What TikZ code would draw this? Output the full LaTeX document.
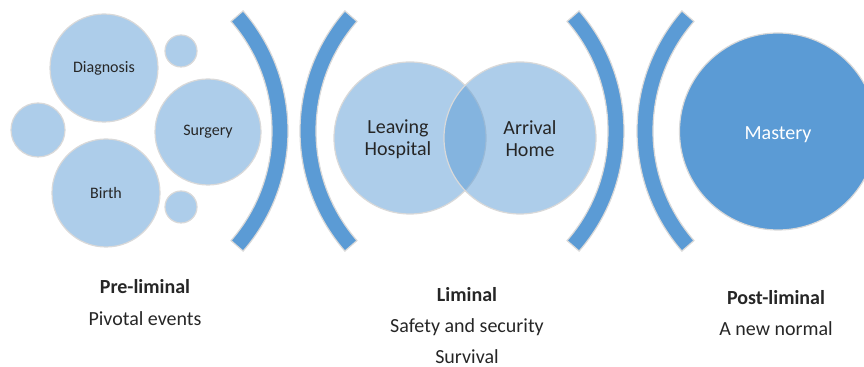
\documentclass[tikz,border=0pt]{standalone}
\usepackage{fontspec}
\setmainfont{Carlito}
\usepackage{tikz}
\usetikzlibrary{calc}
\definecolor{accent}{HTML}{5B9BD5}
\definecolor{lightacc}{HTML}{ADCDEA}
\definecolor{txt}{HTML}{262626}

\begin{document}
\begin{tikzpicture}[x=0.5pt,y=-0.5pt,
  bubble/.style={circle,inner sep=0pt,fill=lightacc,draw=black!15,line width=0.6pt,
    text=txt,font=\fontsize{8}{9.6}\selectfont},
  venn/.style={circle,inner sep=0pt,fill=accent,fill opacity=0.5,draw=black!15,line width=0.6pt},
  bracket/.style={fill=accent,draw=black!15,line width=0.6pt},
  caption/.style={anchor=base,text=txt,font=\fontsize{10}{12}\selectfont},
  phase/.style={caption,font=\fontsize{10}{12}\selectfont\bfseries}]
  \clip (0,0) rectangle (864,367);

  % pre-liminal bubbles
  \node[bubble,minimum size=54pt] (diag) at (104,68) {Diagnosis};
  \node[bubble,minimum size=53pt] (surg) at (208,132) {Surgery};
  \node[bubble,minimum size=54pt] (birth) at (106,193) {Birth};
  \node[bubble,minimum size=27pt] (dotL) at (38,130) {};
  \node[bubble,minimum size=16pt] (dotT) at (181,51) {};
  \node[bubble,minimum size=16pt] (dotB) at (181,207) {};

  % brackets
  \foreach \cx/\a in {105/0, 483/180, 441/0, 820/180}
    \draw[bracket] ($(\cx,131)+(\a-41:183)$) arc[start angle=\a-41,end angle=\a+41,radius=183]
      -- ($(\cx,131)+(\a+41:167)$) arc[start angle=\a+41,end angle=\a-41,radius=167] -- cycle;

  % liminal
  \node[venn,minimum size=76pt] (leave) at (410,138) {};
  \node[venn,minimum size=76pt] (arrive) at (520,138) {};
  \node[text=txt,align=center,font=\fontsize{10}{11}\selectfont] (leavetxt) at ($(leave)+(-12,1)$) {Leaving\\Hospital};
  \node[text=txt,align=center,font=\fontsize{10}{11}\selectfont] (arrivetxt) at ($(arrive)+(10,1)$) {Arrival\\Home};

  % post-liminal
  \node[circle,inner sep=0pt,minimum size=98.5pt,fill=accent,draw=black!15,line width=0.6pt] (mastery) at (778,131.5) {};
  \node[text=white,font=\fontsize{10}{12}\selectfont] (masterytxt) at ($(mastery)+(0,3)$) {Mastery};

  % captions
  \node[phase] (pre) at (145,294) {Pre-liminal};
  \node[caption] (pivot) at (145,326) {Pivotal events};
  \node[phase] (lim) at (467,302) {Liminal};
  \node[caption] (safety) at (467,333) {Safety and security};
  \node[caption] (surv) at (467,364) {Survival};
  \node[phase] (post) at (776,305) {Post-liminal};
  \node[caption] (normal) at (776,336) {A new normal};
\end{tikzpicture}
\end{document}
